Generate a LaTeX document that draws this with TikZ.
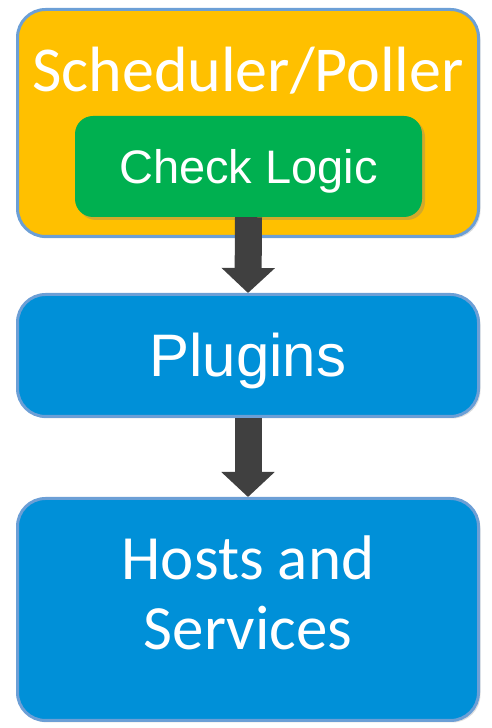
\documentclass[tikz,border=0pt]{standalone}
\usepackage{fontspec}
\setmainfont{Liberation Sans}
\newfontfamily\carlito{Carlito}
\usetikzlibrary{arrows.meta,shadows}
\definecolor{schedorange}{HTML}{FFC000}
\definecolor{checkgreen}{HTML}{00B050}
\definecolor{nodeblue}{HTML}{0090D8}
\definecolor{boxedge}{HTML}{6C9FD6}
\definecolor{arrowgrey}{HTML}{404040}

\begin{document}
\begin{tikzpicture}[x=1pt,y=1pt,
    box/.style={draw=boxedge,line width=3pt,rounded corners=28pt,
      minimum width=461pt,inner sep=0pt,text=white,
      drop shadow={shadow xshift=2pt,shadow yshift=-2pt,opacity=0.25}},
    flow/.style={-{Triangle[width=52pt,length=25pt]},line width=27pt,draw=arrowgrey}]
  \useasboundingbox (0,0) rectangle (491,728);

  % scheduler with the check logic inside
  \node[box,fill=schedorange,minimum height=227pt,
        font=\carlito\fontsize{64}{70}\selectfont,
        text height=42pt,text depth=104pt] (sched) at (248,605) {Scheduler/Poller};
  \node[fill=checkgreen,rounded corners=18pt,minimum width=347pt,minimum height=101pt,
        inner sep=0pt,text=white,font=\fontsize{47}{54}\selectfont,
        text height=33.5pt,text depth=0pt,
        drop shadow={shadow xshift=3pt,shadow yshift=-3pt,opacity=0.35}] (check) at (248.5,561.5) {Check Logic};

  % plugins and hosts
  \node[box,fill=nodeblue,minimum height=122pt,
        font=\fontsize{60}{66}\selectfont,
        text height=43pt,text depth=0pt] (plugins) at (248,372.5) {Plugins};
  \node[box,fill=nodeblue,minimum height=222pt,align=center,
        font=\carlito\fontsize{63}{70}\selectfont,
        text height=112pt,text depth=31pt] (hosts) at (248,118.5) {Hosts and\\Services};

  \draw[flow] (check.south) -- (plugins.north);
  \draw[flow] (plugins.south) -- (hosts.north);
\end{tikzpicture}
\end{document}
